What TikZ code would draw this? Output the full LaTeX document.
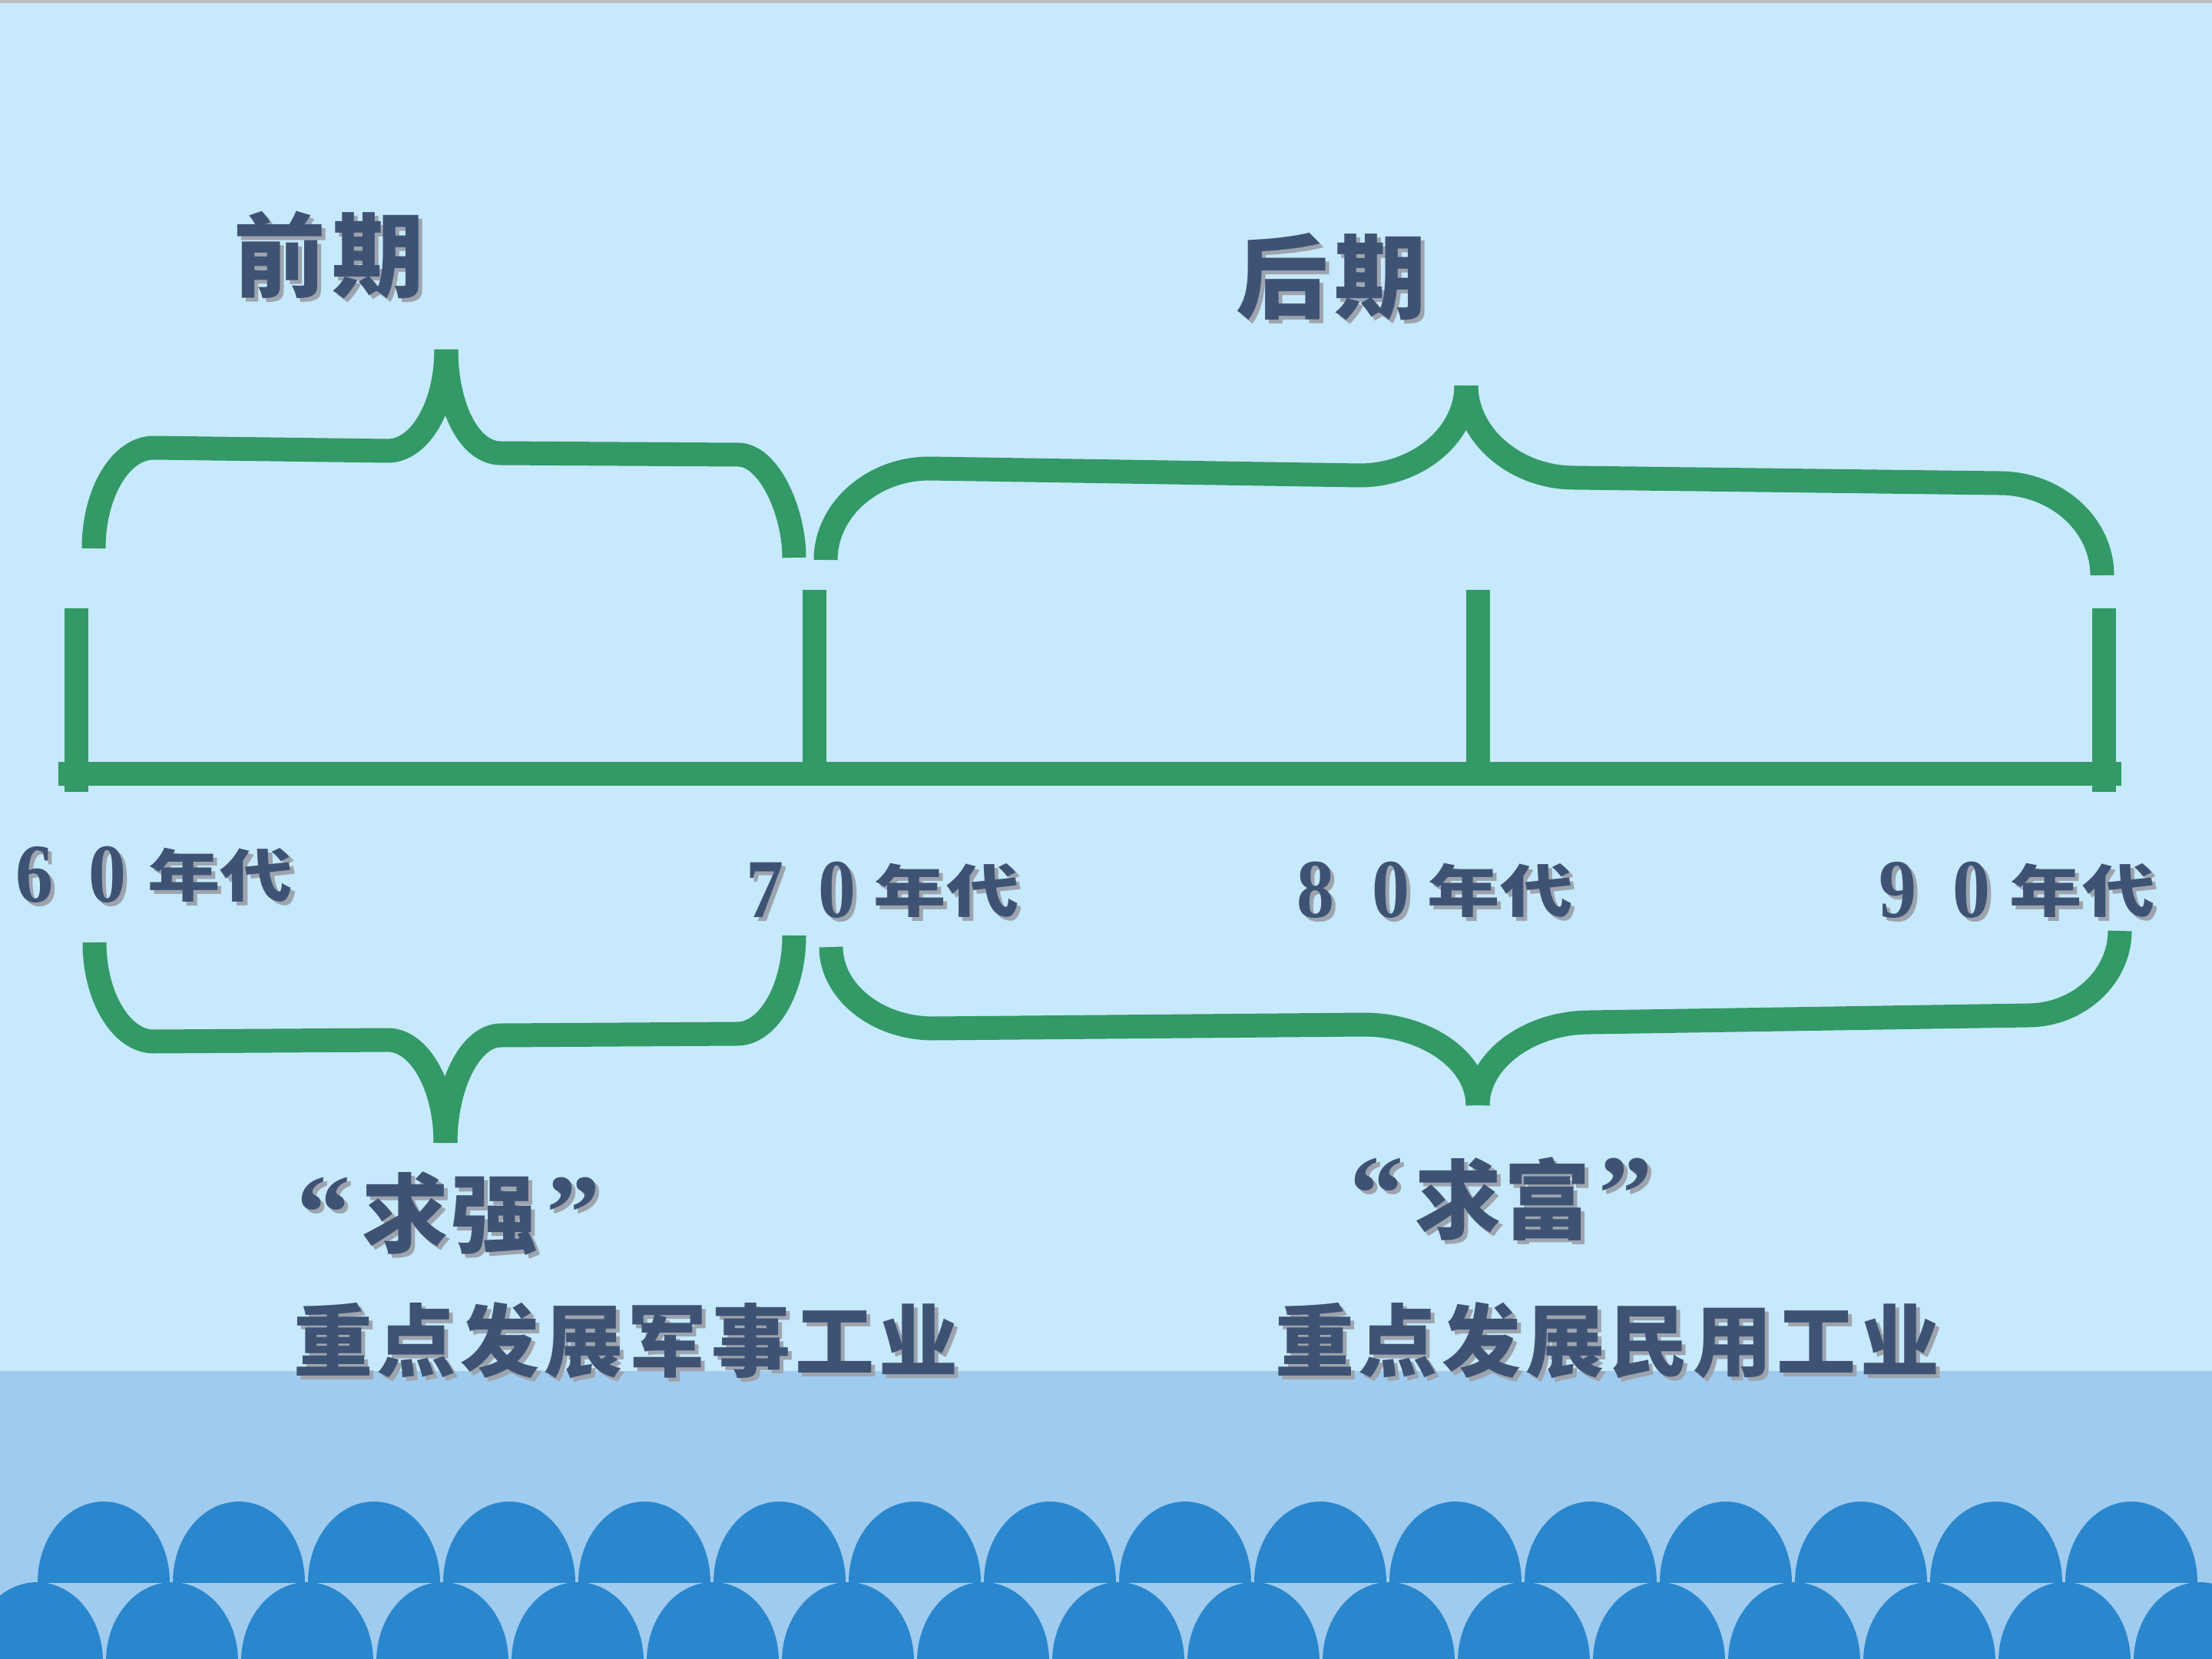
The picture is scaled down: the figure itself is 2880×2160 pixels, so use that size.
\documentclass[tikz,border=0pt]{standalone}
\usepackage{fontspec}
\newfontfamily\cjk{Noto Sans CJK SC}
\newfontfamily\dig{Liberation Serif}
\definecolor{bgtop}{HTML}{C6E9FB}
\definecolor{bgband}{HTML}{9FCBEF}
\definecolor{domec}{HTML}{2A87CD}
\definecolor{tgreen}{HTML}{339966}
\definecolor{tblue}{HTML}{3E5374}
\definecolor{tshadow}{HTML}{9DA4AE}
\definecolor{topline}{HTML}{BDBFC2}
\newlength\chpitch
\newcommand\spreadchars[2]{\setlength\chpitch{#1}\spreadloop#2\relax}
\def\spreadloop#1{\ifx\relax#1\else\makebox[\chpitch]{#1}\expandafter\spreadloop\fi}
\newcommand\shtxt[4][]{%
  \node[lbl,#1,text=tshadow,xshift=0.5mm,yshift=-0.5mm] (#2-s) at (#3) {#4};
  \node[lbl,#1] (#2) at (#3) {#4};}
\begin{document}
\begin{tikzpicture}[x=0.1mm,y=-0.1mm,
  brace/.style={draw=tgreen,line width=3.1mm,line cap=butt,line join=round},
  lbl/.style={inner sep=0pt,outer sep=0pt,text=tblue},
  headfont/.style={font=\cjk\bfseries\fontsize{34pt}{38pt}\selectfont},
  qfont/.style={font=\cjk\bfseries\fontsize{32pt}{36pt}\selectfont},
  bodyfont/.style={font=\cjk\bfseries\fontsize{29.3pt}{33pt}\selectfont},
  quotefont/.style={font=\dig\bfseries\fontsize{40pt}{44pt}\selectfont,anchor=north},
  digfont/.style={font=\dig\bfseries\fontsize{31pt}{34pt}\selectfont},
  nianfont/.style={font=\cjk\bfseries\fontsize{21pt}{24pt}\selectfont}]
\useasboundingbox (0,0) rectangle (2880,2160);
% background
\fill[bgtop] (0,0) rectangle (2880,2160);
\fill[topline] (0,0) rectangle (2880,4);
\fill[bgband] (0,1785) rectangle (2880,2160);
% domes
\begin{scope}
  \clip (0,1950) rectangle (2880,2060);
  \foreach \k in {0,...,15} \fill[domec] (135+176*\k,2060) ellipse [x radius=8.6mm, y radius=10.5mm];
\end{scope}
\begin{scope}
  \clip (0,2060) rectangle (2880,2160);
  \foreach \k in {0,...,16} \fill[domec] (48+176*\k,2163) ellipse [x radius=8.6mm, y radius=10.3mm];
\end{scope}
% timeline
\draw[brace] (76,1007) -- (2762,1007);
\draw[brace] (99,792) -- (99,1031);
\draw[brace] (1060,768) -- (1060,1007);
\draw[brace] (1924,768) -- (1924,1007);
\draw[brace] (2739,792) -- (2739,1031);
% upper brace 1
\draw[brace] (122,714) .. controls (122,642) and (157,583) .. (200,583) -- (505,587) .. controls (547,587) and (581,528) .. (581,455);
\draw[brace] (581,455) .. controls (581,528) and (610,590) .. (652,590) -- (961,592) .. controls (1001,592) and (1034,666) .. (1034,726);
% upper brace 2
\draw[brace] (1075,729) .. controls (1075,664) and (1136,610) .. (1210,610) -- (1770,619) .. controls (1846,619) and (1909,566) .. (1909,502);
\draw[brace] (1909,502) .. controls (1909,566) and (1972,622) .. (2050,622) -- (2603,629) .. controls (2677,629) and (2737,683) .. (2737,749);
% lower brace 1
\draw[brace] (123,1227) .. controls (123,1298) and (158,1356) .. (200,1356) -- (505,1354) .. controls (546,1354) and (580,1414) .. (580,1488);
\draw[brace] (580,1488) .. controls (580,1414) and (612,1348) .. (652,1348) -- (960,1346) .. controls (1000,1346) and (1034,1288) .. (1034,1218);
% lower brace 2
\draw[brace] (1082,1233) .. controls (1082,1291) and (1142,1339) .. (1215,1339) -- (1775,1334) .. controls (1857,1334) and (1924,1381) .. (1924,1439);
\draw[brace] (1924,1439) .. controls (1924,1381) and (1990,1331) .. (2070,1331) -- (2640,1322) .. controls (2706,1322) and (2760,1272) .. (2760,1212);
% headings
\shtxt[headfont]{qianqi}{428,332}{\spreadchars{12.8mm}{前期}}
\shtxt[headfont]{houqi}{1733,360}{\spreadchars{12.8mm}{后期}}
% year labels
\shtxt[digfont]{d6}{45,1139}{\scalebox{0.9}[1]{6}}
\shtxt[digfont]{d60}{140,1139}{\scalebox{0.9}[1]{0}}
\shtxt[nianfont]{n60}{287,1139}{\scalebox{1.28}[1]{年代}}
\shtxt[digfont]{d7}{996,1159}{\scalebox{0.9}[1]{7}}
\shtxt[digfont]{d70}{1090,1159}{\scalebox{0.9}[1]{0}}
\shtxt[nianfont]{n70}{1232,1159}{\scalebox{1.28}[1]{年代}}
\shtxt[digfont]{d8}{1713,1159}{\scalebox{0.9}[1]{8}}
\shtxt[digfont]{d80}{1811,1159}{\scalebox{0.9}[1]{0}}
\shtxt[nianfont]{n80}{1953,1159}{\scalebox{1.28}[1]{年代}}
\shtxt[digfont]{d9}{2471,1159}{\scalebox{0.9}[1]{9}}
\shtxt[digfont]{d90}{2567,1159}{\scalebox{0.9}[1]{0}}
\shtxt[nianfont]{n90}{2711,1159}{\scalebox{1.28}[1]{年代}}
% slogans
\shtxt[quotefont]{ql1}{422,1533}{“}
\shtxt[qfont]{qiuqiang}{586,1580}{\spreadchars{11.6mm}{求强}}
\shtxt[quotefont]{qr1}{747,1533}{”}
\shtxt[quotefont]{ql2}{1793,1508}{“}
\shtxt[qfont]{qiufu}{1957,1561}{\spreadchars{11.6mm}{求富}}
\shtxt[quotefont]{qr2}{2117,1508}{”}
\shtxt[bodyfont]{body1}{815,1745}{\spreadchars{10.9mm}{重点发展军事工业}}
\shtxt[bodyfont]{body2}{2093,1745}{\spreadchars{10.9mm}{重点发展民用工业}}
\end{tikzpicture}
\end{document}
